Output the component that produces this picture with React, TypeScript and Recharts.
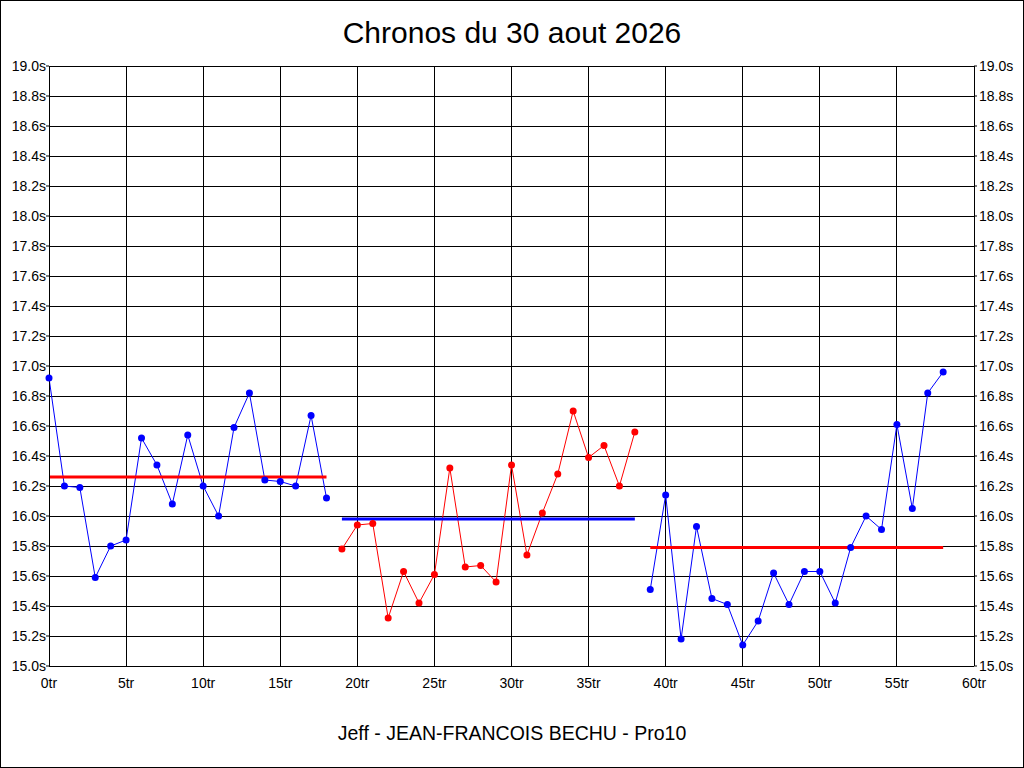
import React from "react";
import {
  ComposedChart,
  Line,
  XAxis,
  YAxis,
  CartesianGrid,
} from "recharts";

// Temps au tour (s), un point par tour, tour 0 à 58
const chronos: number[] = [
  16.92, 16.2, 16.19, 15.59, 15.8, 15.84, 16.52, 16.34, 16.08, 16.54,
  16.2, 16.0, 16.59, 16.82, 16.24, 16.23, 16.2, 16.67, 16.12,
  15.78, 15.94, 15.95, 15.32, 15.63, 15.42, 15.61, 16.32, 15.66, 15.67,
  15.56, 16.34, 15.74, 16.02, 16.28, 16.7, 16.39, 16.47, 16.2, 16.56,
  15.51, 16.14, 15.18, 15.93, 15.45, 15.41, 15.14, 15.3, 15.62, 15.41,
  15.63, 15.63, 15.42, 15.79, 16.0, 15.91, 16.61, 16.05, 16.82, 16.96,
];

// Séries : premier et dernier tour, couleur de la courbe, moyenne et sa couleur
const seriesFirst = [0, 19, 39];
const seriesLast = [18, 38, 58];
const seriesColor = ["#0000ff", "#ff0000", "#0000ff"];
const seriesAvg = [16.26, 15.98, 15.79];
const avgColor = ["#ff0000", "#0000ff", "#ff0000"];

const xTicks = [0, 5, 10, 15, 20, 25, 30, 35, 40, 45, 50, 55, 60];
const yTicks = [
  15.0, 15.2, 15.4, 15.6, 15.8, 16.0, 16.2, 16.4, 16.6, 16.8, 17.0, 17.2,
  17.4, 17.6, 17.8, 18.0, 18.2, 18.4, 18.6, 18.8, 19.0,
];

const FONT = "'Liberation Sans', Arial, sans-serif";
const tickStyle = { fontSize: 14, fill: "#000", fontFamily: FONT };

export default function App() {
  const series = seriesFirst.map((first, i) => {
    const points = [];
    for (let tr = first; tr <= seriesLast[i]; tr++) {
      points.push({ tr, t: chronos[tr] });
    }
    const avg = [
      { tr: first, t: seriesAvg[i] },
      { tr: seriesLast[i], t: seriesAvg[i] },
    ];
    return { points, avg, color: seriesColor[i], avgColor: avgColor[i] };
  });

  return (
    <div style={{ position: "relative", width: 1024, height: 768, background: "#fff" }}>
      <style>{"body{margin:0}"}</style>
      <div
        style={{
          position: "absolute",
          top: 15,
          left: 0,
          width: 1024,
          textAlign: "center",
          fontFamily: FONT,
          fontSize: 30,
          lineHeight: "36px",
          color: "#000",
        }}
      >
        Chronos du 30 aout 2026
      </div>
      <ComposedChart
        width={1024}
        height={768}
        margin={{ top: 66, right: 0, bottom: 72, left: 0 }}
      >
        <CartesianGrid
          yAxisId="left"
          stroke="#000"
          strokeWidth={1}
          shapeRendering="crispEdges"
          horizontalValues={yTicks}
          verticalValues={xTicks}
        />
        <XAxis
          dataKey="tr"
          type="number"
          domain={[0, 60]}
          ticks={xTicks}
          interval={0}
          allowDuplicatedCategory={false}
          tickFormatter={(v) => `${v}tr`}
          tick={tickStyle}
          tickLine={false}
          axisLine={{ stroke: "#000", shapeRendering: "crispEdges" }}
          height={30}
          tickMargin={6}
        />
        <YAxis
          yAxisId="left"
          type="number"
          domain={[15, 19]}
          ticks={yTicks}
          interval={0}
          tickFormatter={(v) => `${Number(v).toFixed(1)}s`}
          tick={tickStyle}
          tickSize={3}
          tickMargin={0}
          tickLine={{ stroke: "#000" }}
          axisLine={{ stroke: "#000", shapeRendering: "crispEdges" }}
          width={49}
        />
        <YAxis
          yAxisId="right"
          orientation="right"
          type="number"
          domain={[15, 19]}
          ticks={yTicks}
          interval={0}
          tickFormatter={(v) => `${Number(v).toFixed(1)}s`}
          tick={tickStyle}
          tickSize={3}
          tickMargin={2}
          tickLine={{ stroke: "#000" }}
          axisLine={{ stroke: "#000", shapeRendering: "crispEdges" }}
          width={50}
        />
        {series.map((s, i) => (
          <Line
            key={`serie-${i}`}
            yAxisId="left"
            data={s.points}
            dataKey="t"
            type="linear"
            stroke={s.color}
            strokeWidth={1}
            dot={{ r: 3.5, fill: s.color, stroke: s.color, strokeWidth: 0 }}
            activeDot={false}
            isAnimationActive={false}
          />
        ))}
        {series.map((s, i) => (
          <Line
            key={`moy-${i}`}
            yAxisId="right"
            data={s.avg}
            dataKey="t"
            type="linear"
            stroke={s.avgColor}
            strokeWidth={3}
            dot={false}
            activeDot={false}
            isAnimationActive={false}
          />
        ))}
      </ComposedChart>
      <div
        style={{
          position: "absolute",
          top: 720,
          left: 0,
          width: 1024,
          textAlign: "center",
          fontFamily: FONT,
          fontSize: 19.5,
          lineHeight: "26px",
          color: "#000",
        }}
      >
        Jeff - JEAN-FRANCOIS BECHU - Pro10
      </div>
      <div
        style={{
          position: "absolute",
          inset: 0,
          border: "1px solid #000",
          pointerEvents: "none",
        }}
      />
    </div>
  );
}
